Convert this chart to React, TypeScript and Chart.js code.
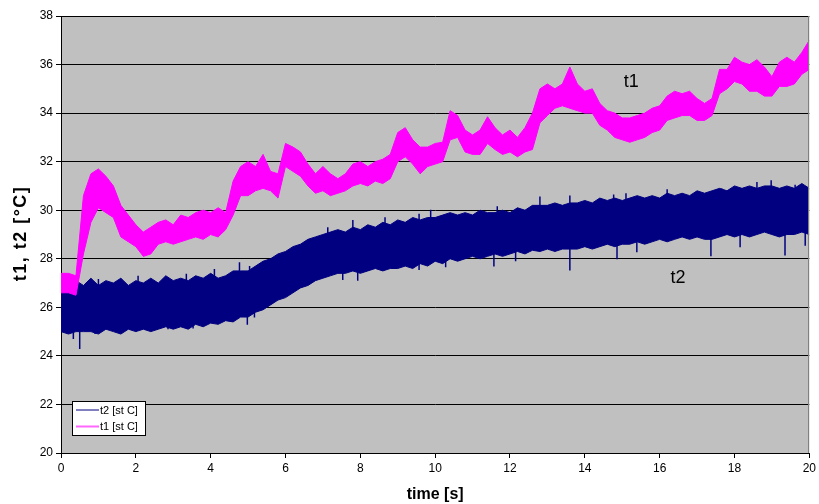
import React, { useEffect, useRef } from 'react';
import { Chart, registerables } from 'chart.js';

Chart.register(...registerables);

// Sampling step of the read-off envelopes (seconds)
const SAMPLE_STEP = 0.2;

// t1 [st C] upper / lower envelope, read every 0.2 s from 0 to 20 s
const t1Upper = [
  27.4, 27.4, 27.3, 30.6, 31.5, 31.7, 31.4, 31.0, 30.2, 29.8,
  29.4, 29.1, 29.3, 29.5, 29.6, 29.4, 29.8, 29.7, 29.9, 30.0,
  29.9, 30.1, 29.9, 31.2, 31.8, 32.0, 31.8, 32.3, 31.6, 31.5,
  32.75, 32.6, 32.4, 31.9, 31.5, 31.8, 31.5, 31.3, 31.5, 31.9,
  32.0, 31.8, 32.0, 32.1, 32.3, 33.2, 33.4, 32.9, 32.6, 32.6,
  32.75, 32.8, 34.1, 33.9, 33.3, 33.1, 33.3, 33.85, 33.4, 33.1,
  33.3, 33.0, 33.4, 34.0, 35.0, 35.2, 35.0, 35.2, 35.9, 35.2,
  34.9, 35.0, 34.4, 34.1, 34.0, 33.8, 33.8, 33.9, 34.0, 34.2,
  34.3, 34.7, 34.9, 34.8, 34.9, 34.6, 34.4, 34.6, 35.8, 35.8,
  36.3, 36.1, 36.0, 36.2, 35.9, 35.5, 36.1, 36.3, 36.1, 36.5,
  37.0,
];
const t1Lower = [
  26.6, 26.6, 26.5, 28.2, 29.5, 30.1, 29.9, 29.7, 28.9, 28.7,
  28.5, 28.1, 28.2, 28.6, 28.7, 28.6, 28.7, 28.8, 28.9, 28.8,
  29.0, 28.9, 29.2, 29.8, 30.6, 30.6, 30.8, 30.9, 30.8, 30.5,
  31.8, 31.6, 31.4, 31.0, 30.7, 30.8, 30.6, 30.7, 30.8, 31.0,
  31.1, 31.0, 31.2, 31.1, 31.3, 32.0, 32.2, 31.9, 31.5, 31.8,
  31.9, 32.0, 32.9, 33.0, 32.4, 32.3, 32.3, 32.75, 32.5, 32.3,
  32.4, 32.2, 32.4, 32.5, 33.6, 33.9, 34.2, 34.3, 34.2, 34.1,
  34.0, 34.0, 33.5, 33.3, 33.0, 32.9, 32.8, 32.9, 33.0, 33.2,
  33.3, 33.7, 33.8, 33.9, 33.9, 33.7, 33.7, 33.9, 34.8, 35.0,
  35.3, 35.2, 34.9, 34.9, 34.7, 34.7, 35.1, 35.1, 35.2, 35.6,
  35.8,
];

// t2 [st C] upper / lower envelope of the dense band, read every 0.2 s
const t2Upper = [
  27.0, 26.9, 27.1, 26.9, 27.2, 26.9, 27.1, 27.0, 27.2, 26.9,
  27.1, 27.0, 27.2, 27.0, 27.3, 27.1, 27.2, 27.1, 27.3, 27.2,
  27.4, 27.2, 27.3, 27.5, 27.5, 27.5, 27.7, 27.9, 28.0, 28.2,
  28.3, 28.5, 28.6, 28.8, 28.9, 29.0, 29.1, 29.2, 29.1, 29.3,
  29.2, 29.4, 29.3, 29.5, 29.4, 29.6, 29.5, 29.7, 29.6, 29.7,
  29.7, 29.8, 29.9, 29.8, 29.9, 29.8, 30.0, 29.9, 29.9, 30.0,
  29.9, 30.1, 30.0, 30.2, 30.2, 30.2, 30.3, 30.2, 30.3, 30.3,
  30.4, 30.3, 30.5, 30.4, 30.5, 30.4, 30.5, 30.6, 30.5, 30.6,
  30.5, 30.7, 30.6, 30.7, 30.6, 30.8, 30.7, 30.8, 30.9, 30.8,
  31.0, 30.9, 31.0, 30.9, 31.0, 31.0, 30.9, 31.0, 30.9, 31.1,
  30.9,
];
const t2Lower = [
  25.0, 24.9, 25.0, 25.0, 25.0, 24.9, 25.1, 25.0, 24.9, 25.1,
  25.0, 25.1, 25.0, 25.1, 25.2, 25.1, 25.2, 25.1, 25.3, 25.2,
  25.35, 25.3, 25.45, 25.4, 25.6, 25.6, 25.8, 25.9, 26.1, 26.3,
  26.4, 26.6, 26.8, 26.9, 27.1, 27.2, 27.3, 27.4, 27.4, 27.5,
  27.4, 27.5, 27.6, 27.5, 27.6, 27.6, 27.7, 27.6, 27.8, 27.7,
  27.9, 27.8, 28.0, 27.9, 28.0, 28.1, 28.0, 28.1, 28.2, 28.1,
  28.2, 28.3, 28.2, 28.35, 28.3, 28.4, 28.3, 28.4, 28.4, 28.4,
  28.5, 28.4, 28.5, 28.6, 28.5, 28.6, 28.6, 28.7, 28.6, 28.7,
  28.8, 28.7, 28.8, 28.9, 28.8, 28.9, 28.8, 28.8, 28.9, 29.0,
  28.9, 29.0, 28.9, 29.0, 29.1, 29.0, 28.9, 29.0, 29.0, 29.1,
  29.0,
];

// t2 isolated spikes sticking out of the band (time [s], value [°C])
const t2SpikeUpTimes = [1.0, 2.06, 3.35, 4.1, 4.77, 5.04, 7.13, 7.8, 8.66, 9.57, 9.88, 11.66, 12.8, 13.6, 14.77, 15.1, 16.2, 17.66, 18.6, 18.98, 19.62];
const t2SpikeUpValues = [27.17, 27.3, 27.38, 27.58, 27.86, 27.7, 29.3, 29.6, 29.71, 29.85, 30.02, 30.16, 30.57, 30.61, 30.65, 30.7, 30.86, 30.89, 31.16, 31.23, 31.05];
const t2SpikeDownTimes = [0.33, 0.5, 0.91, 2.86, 3.53, 4.98, 5.17, 7.53, 7.93, 9.57, 10.28, 11.57, 12.15, 13.6, 14.86, 15.39, 17.37, 18.15, 19.35, 19.89];
const t2SpikeDownValues = [24.7, 24.28, 24.9, 25.1, 25.13, 25.28, 25.58, 27.13, 27.1, 27.54, 27.65, 27.68, 27.9, 27.52, 27.98, 28.27, 28.1, 28.47, 28.13, 28.54];

const seriesNames = ['t2 [st C]', 't1 [st C]'];
const seriesColors = ['#000080', '#FF00FF'];
const curveLabels = ['t1', 't2'];
const xTitle = 'time [s]';
const yTitle = 't1, t2 [°C]';

const FONT = 'Arial, "Liberation Sans", sans-serif';

const toPoints = (arr: number[]) => arr.map((v, i) => ({ x: +(i * SAMPLE_STEP).toFixed(2), y: v }));

// vertical spike segments, starting from the middle of the band at the nearest sample
const spikePoints = (times: number[], values: number[], hi: number[], lo: number[]) => {
  const pts: { x: number; y: number }[] = [];
  times.forEach((t, k) => {
    const i = Math.round(t / SAMPLE_STEP);
    const mid = (hi[i] + lo[i]) / 2;
    pts.push({ x: t, y: mid }, { x: t, y: values[k] }, { x: t, y: NaN });
  });
  return pts;
};

const decorPlugin = {
  id: 'decor',
  beforeDraw(chart: any) {
    const { ctx, chartArea: a } = chart;
    ctx.save();
    ctx.fillStyle = '#C0C0C0';
    ctx.fillRect(a.left, a.top, a.right - a.left, a.bottom - a.top);
    ctx.restore();
  },
  afterDraw(chart: any) {
    const { ctx, chartArea: a, scales } = chart;
    ctx.save();
    // right border of plot area
    ctx.strokeStyle = '#808080';
    ctx.lineWidth = 1;
    ctx.beginPath();
    ctx.moveTo(Math.round(a.right) - 0.5, a.top);
    ctx.lineTo(Math.round(a.right) - 0.5, a.bottom);
    ctx.stroke();

    // y axis title (rotated)
    ctx.save();
    ctx.translate(21, (a.top + a.bottom) / 2);
    ctx.rotate(-Math.PI / 2);
    ctx.font = `bold 18px ${FONT}`;
    (ctx as any).letterSpacing = '1.5px';
    ctx.fillStyle = '#000';
    ctx.textAlign = 'center';
    ctx.textBaseline = 'middle';
    ctx.fillText(yTitle, 1, 0);
    ctx.restore();

    // curve labels
    ctx.fillStyle = '#000';
    ctx.font = `18px ${FONT}`;
    ctx.textAlign = 'center';
    ctx.textBaseline = 'middle';
    ctx.fillText(curveLabels[0], scales.x.getPixelForValue(15.24), scales.y.getPixelForValue(35.27));
    ctx.fillText(curveLabels[1], scales.x.getPixelForValue(16.49), scales.y.getPixelForValue(27.22));

    // legend box
    const bx = 72.5, by = 401.5, bw = 73, bh = 34;
    ctx.fillStyle = '#FFFFFF';
    ctx.fillRect(bx, by, bw, bh);
    ctx.strokeStyle = '#000';
    ctx.lineWidth = 1;
    ctx.strokeRect(bx, by, bw, bh);
    ctx.font = `11px ${FONT}`;
    ctx.textAlign = 'left';
    ctx.textBaseline = 'middle';
    const rows = [410, 426.5];
    seriesNames.forEach((name, i) => {
      ctx.strokeStyle = i === 1 ? '#FF66FF' : seriesColors[i];
      ctx.lineWidth = i === 1 ? 2 : 1;
      ctx.beginPath();
      ctx.moveTo(76, rows[i]);
      ctx.lineTo(99, rows[i]);
      ctx.stroke();
      ctx.fillStyle = '#000';
      ctx.fillText(name, 100, rows[i] + 0.5);
    });
    ctx.restore();
  },
};

export default function App() {
  const ref = useRef<HTMLCanvasElement>(null);
  useEffect(() => {
    document.body.style.margin = '0';
    const canvas = ref.current!;
    const base = { pointRadius: 0, borderWidth: 1, tension: 0 };
    const chart = new Chart(canvas, {
      type: 'line',
      data: {
        datasets: [
          { ...base, label: seriesNames[1], data: toPoints(t1Upper), borderColor: seriesColors[1], backgroundColor: seriesColors[1], fill: '+1' },
          { ...base, label: seriesNames[1] + ' low', data: toPoints(t1Lower), borderColor: seriesColors[1], backgroundColor: seriesColors[1], fill: false },
          { ...base, label: 'spikes up', data: spikePoints(t2SpikeUpTimes, t2SpikeUpValues, t2Upper, t2Lower), borderColor: seriesColors[0], borderWidth: 1.5, fill: false, spanGaps: false },
          { ...base, label: 'spikes down', data: spikePoints(t2SpikeDownTimes, t2SpikeDownValues, t2Upper, t2Lower), borderColor: seriesColors[0], borderWidth: 1.5, fill: false, spanGaps: false },
          { ...base, label: seriesNames[0], data: toPoints(t2Upper), borderColor: seriesColors[0], backgroundColor: seriesColors[0], fill: '+1' },
          { ...base, label: seriesNames[0] + ' low', data: toPoints(t2Lower), borderColor: seriesColors[0], backgroundColor: seriesColors[0], fill: false },
        ],
      },
      options: {
        responsive: false,
        animation: false,
        events: [],
        layout: { padding: { top: 16, right: 8, left: 0, bottom: 0 } },
        plugins: {
          legend: { display: false },
          tooltip: { enabled: false },
        },
        scales: {
          x: {
            type: 'linear',
            min: 0,
            max: 20,
            ticks: { stepSize: 2, color: '#000', font: { family: FONT, size: 12 }, padding: 3, maxRotation: 0 },
            grid: { drawOnChartArea: false, drawTicks: true, tickLength: 5, color: '#000' },
            border: { color: '#000', width: 1 },
            title: {
              display: true,
              text: xTitle,
              color: '#000',
              font: { family: FONT, size: 16, weight: 'bold' },
              padding: { top: 0, bottom: 0 },
            },
            afterFit: (s: any) => { s.height = 51; },
          },
          y: {
            type: 'linear',
            min: 20,
            max: 38,
            ticks: { stepSize: 2, color: '#000', font: { family: FONT, size: 12 }, padding: 3 },
            grid: { color: '#000', tickLength: 5, lineWidth: 1 },
            border: { color: '#000', width: 1 },
            title: { display: false },
            afterFit: (s: any) => { s.width = 61; },
          },
        },
      } as any,
      plugins: [decorPlugin],
    });
    return () => chart.destroy();
  }, []);
  return (
    <div style={{ width: 819, height: 504 }}>
      <canvas ref={ref} width={819} height={504} style={{ display: 'block' }} />
    </div>
  );
}
